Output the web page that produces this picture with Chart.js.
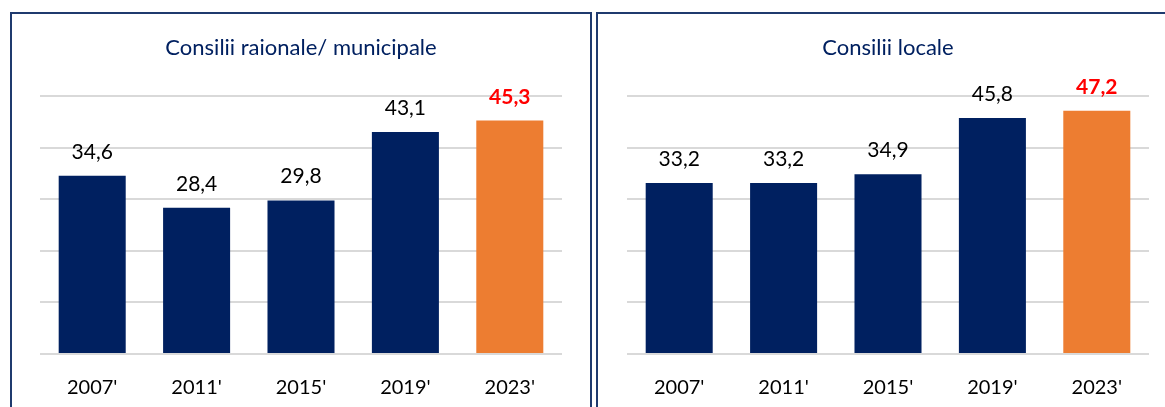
<!DOCTYPE html>
<html>
<head>
<meta charset="utf-8">
<script src="https://cdn.jsdelivr.net/npm/chart.js@4.4.1/dist/chart.umd.min.js"></script>
<style>
  html, body { margin: 0; padding: 0; background: #fff; overflow: hidden; }
  body { width: 1165px; height: 407px; position: relative; }
  .panel { position: absolute; top: 12px; height: 440px; border: 2px solid #1F3A6E; box-sizing: border-box; overflow: hidden; }
  #panelLeft { left: 10px; width: 582px; }
  #panelRight { left: 596px; width: 600px; }
  canvas { position: absolute; top: 0; left: 0; }
</style>
</head>
<body>
<div class="panel" id="panelLeft"><canvas id="chartLeft" width="578" height="411"></canvas></div>
<div class="panel" id="panelRight"><canvas id="chartRight" width="567" height="411"></canvas></div>
<script>
const years = ["2007'", "2011'", "2015'", "2019'", "2023'"];
const raionValues = [34.6, 28.4, 29.8, 43.1, 45.3];
const localValues = [33.2, 33.2, 34.9, 45.8, 47.2];
const yTicks = [0, 10, 20, 30, 40, 50];

const NAVY = '#002060';
const ORANGE = '#ED7D31';
const FONT = 'Lato, "Open Sans", sans-serif';

// value labels above each bar, last one in red bold
const barLabels = {
  id: 'barLabels',
  afterDatasetsDraw(chart) {
    const ctx = chart.ctx;
    const meta = chart.getDatasetMeta(0);
    const data = chart.data.datasets[0].data;
    ctx.save();
    ctx.textAlign = 'center';
    ctx.textBaseline = 'alphabetic';
    meta.data.forEach((bar, i) => {
      const last = i === data.length - 1;
      ctx.font = (last ? 'bold ' : '') + '21px ' + FONT;
      ctx.fillStyle = last ? '#FF0000' : '#000000';
      ctx.fillText(data[i].toFixed(1).replace('.', ','), bar.x, bar.y - 17);
    });
    ctx.restore();
  }
};

function makeChart(id, title, values, pad) {
  return new Chart(document.getElementById(id), {
    type: 'bar',
    data: {
      labels: years,
      datasets: [{
        data: values,
        backgroundColor: values.map((v, i) => i === values.length - 1 ? ORANGE : NAVY),
        borderWidth: 0,
        barPercentage: 0.642,
        categoryPercentage: 1
      }]
    },
    options: {
      responsive: false,
      animation: false,
      layout: { padding: pad },
      plugins: {
        legend: { display: false },
        tooltip: { enabled: false },
        title: {
          display: true,
          text: title,
          color: NAVY,
          font: { family: FONT, size: 22, weight: 'normal' },
          padding: { top: 21, bottom: 35 }
        }
      },
      scales: {
        x: {
          grid: { display: false },
          border: { display: false },
          ticks: { color: '#000', font: { family: FONT, size: 20 }, padding: 14 }
        },
        y: {
          min: yTicks[0],
          max: yTicks[yTicks.length - 1],
          afterBuildTicks: axis => { axis.ticks = yTicks.map(v => ({ value: v })); },
          ticks: { display: false },
          border: { display: false },
          grid: { color: '#D9D9D9', lineWidth: 2, drawTicks: false }
        }
      }
    },
    plugins: [barLabels]
  });
}

makeChart('chartLeft', 'Consilii raionale/ municipale', raionValues, { left: 28, right: 28, top: 0, bottom: 11 });
makeChart('chartRight', 'Consilii locale', localValues, { left: 29, right: 16, top: 0, bottom: 11 });
</script>
</body>
</html>
